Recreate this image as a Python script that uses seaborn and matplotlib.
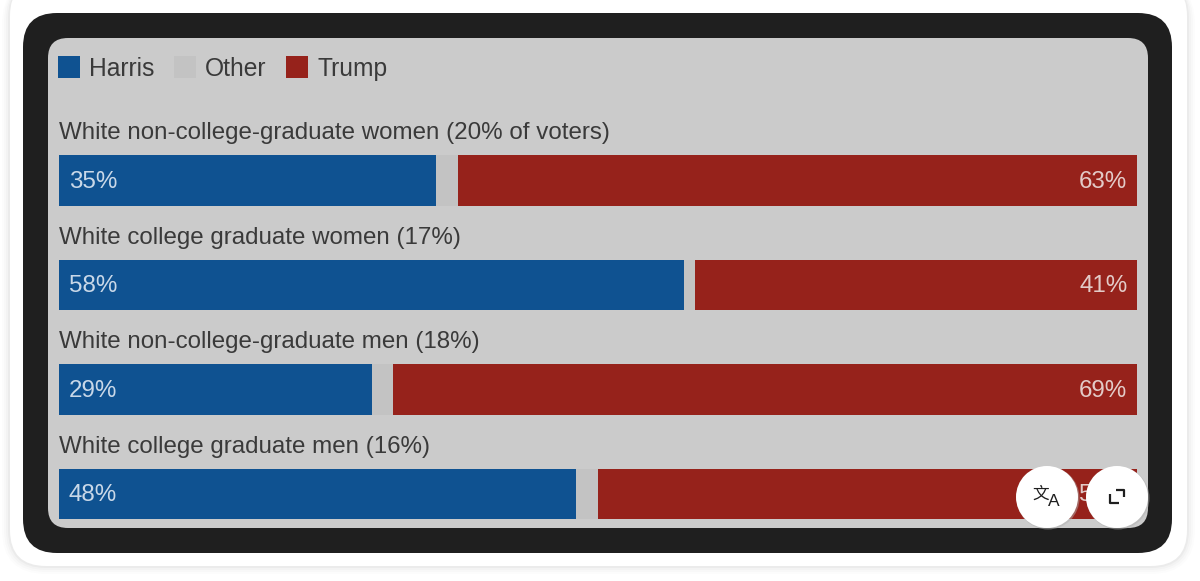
import matplotlib
matplotlib.use("Agg")
import matplotlib.pyplot as plt
import numpy as np
import seaborn as sns
from matplotlib.patches import FancyBboxPatch, Circle, Patch

categories = ["White non-college-graduate women (20% of voters)",
              "White college graduate women (17%)",
              "White non-college-graduate men (18%)",
              "White college graduate men (16%)"]
harris = [35, 58, 29, 48]
other = [2, 1, 2, 2]
trump = [63, 41, 69, 50]
series_names = ["Harris", "Other", "Trump"]

BLUE, GREY, RED = "#0f5291", "#c3c3c3", "#96221b"
PX = 1 / 1200, 1 / 581

sns.set_theme(style="white")
plt.rcParams["font.family"] = ["Liberation Sans", "DejaVu Sans"]

fig = plt.figure(figsize=(12, 5.81), dpi=100, facecolor="white")


def pixel_axes(z):
    a = fig.add_axes([0, 0, 1, 1], zorder=z)
    a.set_xlim(0, 1200)
    a.set_ylim(581, 0)
    a.axis("off")
    a.patch.set_alpha(0)
    return a


def rrect(a, x0, y0, x1, y1, r, **kw):
    a.add_patch(FancyBboxPatch((x0 + r, y0 + r), x1 - x0 - 2 * r, y1 - y0 - 2 * r,
                               boxstyle=f"round,pad={r},rounding_size={r}", lw=0, **kw))


bg = pixel_axes(0)
for grow, alpha in [(8, .012), (6, .015), (4, .02), (2, .03)]:
    rrect(bg, 10 - grow, -20, 1187 + grow, 566 + grow, 36 + grow, fc="black", alpha=alpha)
rrect(bg, 10, -20, 1187, 566, 36, fc="white")
rrect(bg, 23, 13, 1172, 553, 34, fc="#1f1f1f")
rrect(bg, 48, 38, 1148, 528, 20, fc="#cbcbcb")

# data axes: x 59..1137 px is 0..100 %, four rows 104.5 px apart centred 180.5..494
top, bottom = 128.0, 546.0
ax = fig.add_axes([59 * PX[0], 1 - bottom * PX[1], 1078 * PX[0], (bottom - top) * PX[1]], zorder=1)
ax.patch.set_alpha(0)

h, o, t = np.array(harris), np.array(other), np.array(trump)
bar_w = 50.5 / 104.5
sns.barplot(x=h, y=categories, color=BLUE, saturation=1, width=bar_w, orient="h",
            errorbar=None, ax=ax, linewidth=0)
sns.barplot(x=o, y=categories, left=h, color=GREY, saturation=1, width=bar_w, orient="h",
            errorbar=None, ax=ax, linewidth=0)
sns.barplot(x=t, y=categories, left=h + o, color=RED, saturation=1, width=bar_w, orient="h",
            errorbar=None, ax=ax, linewidth=0)
ax.set_xlim(0, 100)
ax.set_ylim(3.5, -0.5)
ax.set_xticks([])
ax.set_yticks([])
ax.set_xlabel("")
ax.set_ylabel("")
sns.despine(ax=ax, left=True, bottom=True)

FS = 17.4
for i, c in enumerate(categories):
    ax.annotate(c, (0, i), xytext=(0, 34), textcoords="offset points",
                fontsize=FS - 0.05, color="#3a3a3a", va="center", ha="left", annotation_clip=False)
    ax.annotate(f"{harris[i]}%", (0, i), xytext=(7, -1), textcoords="offset points",
                fontsize=FS, color="#c9d8e8", va="center", ha="left")
    ax.annotate(f"{trump[i]}%", (100, i), xytext=(-7, -1), textcoords="offset points",
                fontsize=FS, color="#e3cbc8", va="center", ha="right")

handles = [Patch(fc=col, lw=0, label=n) for col, n in zip([BLUE, GREY, RED], series_names)]
fig.legend(handles=handles, ncols=3, frameon=False, loc="upper left", fontsize=FS + 0.3,
           bbox_to_anchor=(58 * PX[0], 1 - 56 * PX[1]), bbox_transform=fig.transFigure,
           borderpad=0, borderaxespad=0, handlelength=0.9, handleheight=1.02,
           handletextpad=0.36, columnspacing=0.8, labelcolor="#3a3a3a")

fg = pixel_axes(3)
for cx in (1047, 1117):
    fg.add_patch(Circle((cx + 1, 498), 31.5, fc="#b0b0b0", lw=0, alpha=.5))
    fg.add_patch(Circle((cx, 497), 31, fc="white", lw=0))
fg.text(1041, 494, "文", family=["Noto Sans CJK SC", "DejaVu Sans"], fontsize=12,
        color="#1f1f1f", ha="center", va="center")
fg.text(1054, 501, "A", fontsize=12.5, color="#1f1f1f", ha="center", va="center")
fg.plot([1109.5, 1109.5, 1119], [494, 503, 503], color="#1f1f1f", lw=1.6, solid_capstyle="butt")
fg.plot([1116, 1124, 1124], [490, 490, 497], color="#1f1f1f", lw=1.6, solid_capstyle="butt")
fg.set_xlim(0, 1200)
fg.set_ylim(581, 0)

fig.savefig("out.png", dpi=100)
